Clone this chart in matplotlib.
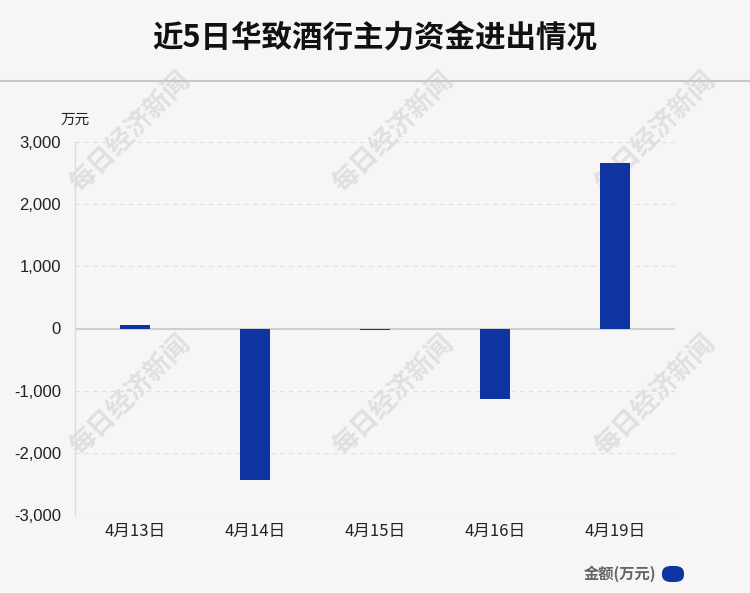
import matplotlib
matplotlib.use("Agg")
import matplotlib.pyplot as plt
from matplotlib.patches import FancyBboxPatch
from matplotlib.lines import Line2D

plt.rcParams['font.family'] = ['Noto Sans CJK SC', 'DejaVu Sans']

categories = ['4月13日', '4月14日', '4月15日', '4月16日', '4月19日']
values = [55, -2445, -20, -1140, 2670]
yticks = [-3000, -2000, -1000, 0, 1000, 2000, 3000]
title = '近5日华致酒行主力资金进出情况'
unit = '万元'
legend_label = '金额(万元)'
watermark = '每日经济新闻'

bg = '#f8f5f6'
bar_color = '#0d34a0'

W, H = 750, 593
fig = plt.figure(figsize=(W/100, H/100), dpi=100, facecolor=bg)

# Title and separator
fig.text(375/W, 1-38/H, title, ha='center', va='center', fontsize=22, fontweight='bold', color='#111111')
fig.add_artist(Line2D([0, 1], [1-81/H, 1-81/H], color='#c8c6c7', lw=1.5, transform=fig.transFigure))

# Watermarks
for (x, y) in [(130, 132), (393, 132), (655, 132), (130, 395), (393, 395), (655, 395)]:
    fig.text(x/W, 1-y/H, watermark, ha='center', va='center', rotation=45,
             fontsize=19, fontweight='bold', color='#e2dfe0', zorder=-1)

ax = fig.add_axes([75/W, 1-515/H, 600/W, (515-142)/H])
ax.set_facecolor('none')
x = list(range(len(categories)))
ax.bar(x, values, width=0.25, color=bar_color, zorder=3)
ax.set_xlim(-0.5, len(categories)-0.5)
ax.set_ylim(-3000, 3000)
ax.set_yticks(yticks)
ax.set_yticklabels([f'{v:,}' for v in yticks], fontsize=12, color='#222222', family=['Liberation Sans', 'DejaVu Sans'])
ax.set_xticks(x)
ax.set_xticklabels(categories, fontsize=12, color='#222222')
ax.tick_params(axis='y', length=0, pad=10)
ax.tick_params(axis='x', length=0, pad=6)
for s in ['top', 'right', 'bottom']:
    ax.spines[s].set_visible(False)
ax.spines['left'].set_color('#dcdadb')
ax.spines['left'].set_linewidth(1)
ax.yaxis.grid(True, linestyle=(0, (4, 4)), color='#e0dedf', lw=0.8, zorder=0)
ax.axhline(0, color='#cfcdce', lw=1.5, zorder=2)

fig.text(75/W, 1-120/H, unit, ha='center', va='center', fontsize=10.5, color='#222222')

# Legend
fig.text(656/W, 1-574/H, legend_label, ha='right', va='center', fontsize=11, fontweight='bold', color='#666666')
fig.add_artist(FancyBboxPatch((662/W, 1-582/H), 22/W, 16/H, boxstyle='round,pad=0,rounding_size=0.012',
                              transform=fig.transFigure, facecolor=bar_color, edgecolor='none'))

fig.savefig('out.png', dpi=100, facecolor=bg)
